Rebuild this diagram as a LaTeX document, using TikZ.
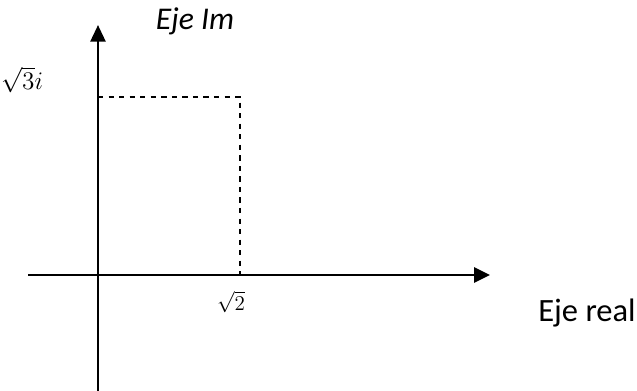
\documentclass[tikz,border=0pt]{standalone}
\usepackage{amsmath}
\usepackage{fontspec}
\setmainfont{Carlito}
\usepackage{tikz}
\usetikzlibrary{arrows.meta}

\begin{document}
\begin{tikzpicture}[x=0.02cm,y=-0.02cm]
    \useasboundingbox (0,0) rectangle (637,391);
    \coordinate (xl) at (28,275);
    \coordinate (xr) at (490,275);
    \coordinate (yb) at (98,391);
    \coordinate (yt) at (98,25);
    \coordinate (p) at (240,97);
    \coordinate (py) at (98,97);
    \coordinate (px) at (240,275);
    \draw[line width=1.6pt,-{Triangle[length=9pt,width=8.5pt]}] (xl) -- (xr);
    \draw[line width=1.6pt,-{Triangle[length=9.5pt,width=8.5pt]}] (yb) -- (yt);
    \draw[dashed,line width=0.7pt] (py) -- (p) -- (px);
    \node (im) at (195,21) {\fontsize{18}{21}\selectfont\itshape Eje Im};
    \node (re) at (587,313) {\fontsize{18.5}{22}\selectfont Eje real};
    \node (yi) at (22,80) {\fontsize{14}{17}\selectfont$\sqrt{3}i$};
    \node (xs) at (231,302) {\fontsize{13}{16}\selectfont$\sqrt{2}$};
\end{tikzpicture}
\end{document}
